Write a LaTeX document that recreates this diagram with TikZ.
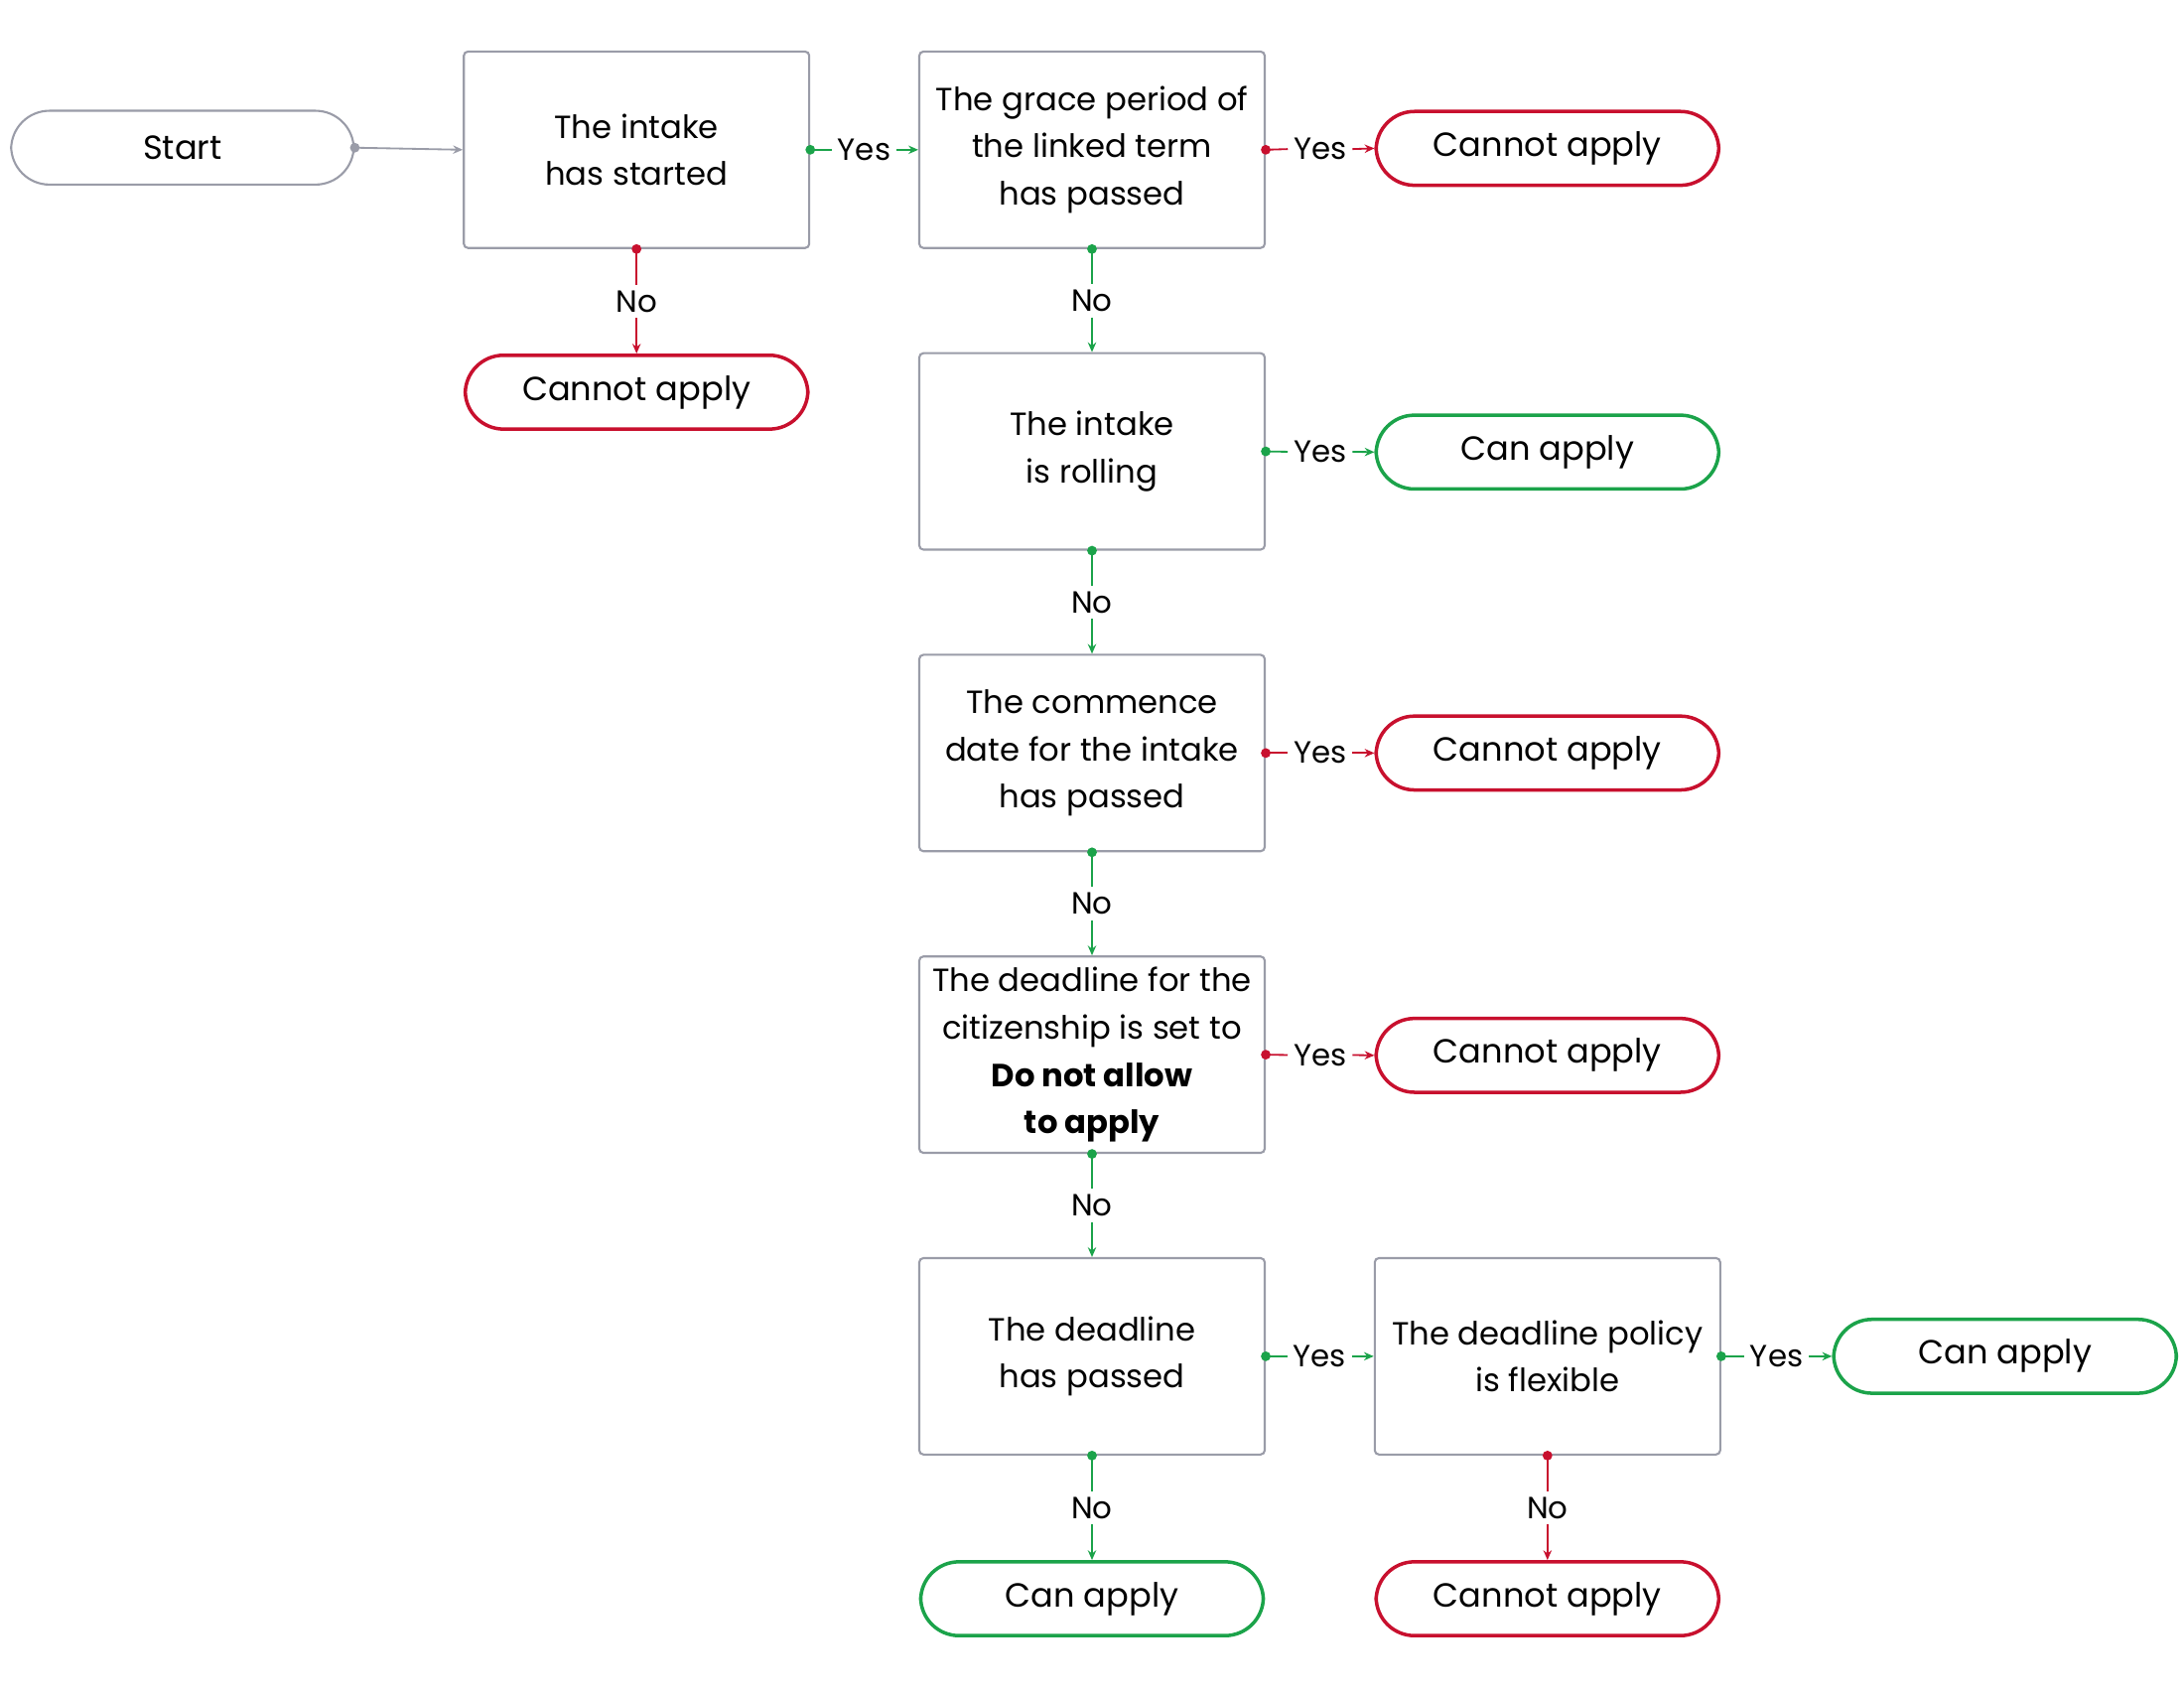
\documentclass[tikz,border=0pt]{standalone}
\usepackage{fontspec}
\setmainfont{Poppins}
\usetikzlibrary{arrows.meta}
\definecolor{cred}{HTML}{C8102E}
\definecolor{cgreen}{HTML}{1BA34A}
\definecolor{cgrey}{HTML}{9A9CA8}
\begin{document}
\begin{tikzpicture}[x=1pt,y=-1pt,
  box/.style={draw=cgrey,line width=1.5pt,rounded corners=3pt,minimum width=248pt,minimum height=141pt,align=center,font=\fontsize{23}{34}\selectfont,inner sep=0pt},
  term/.style={line width=2.5pt,rounded corners=27.5pt,minimum width=246pt,minimum height=53pt,font=\fontsize{24}{30}\selectfont,inner sep=0pt},
  redt/.style={term,draw=cred},
  greent/.style={term,draw=cgreen},
  lbl/.style={font=\fontsize{22}{26}\selectfont,inner sep=4pt},
  con/.style={line width=1.3pt},
  tip/.style={-{Stealth[length=7pt,width=6pt]}}
]
\useasboundingbox (0,0) rectangle (1568,1217);
\node[term,draw=cgrey,line width=1.5pt] (start) at (131,106) {Start};
\node[box] (b1) at (457,107.5) {The intake\\has started};
\node[box] (b2) at (784,107.5) {The grace period of\\the linked term\\has passed};
\node[redt] (t1) at (1111,106.5) {Cannot apply};
\node[redt] (t2) at (457,281.5) {Cannot apply};
\node[box] (b3) at (784,324) {The intake\\is rolling};
\node[greent] (t3) at (1111,324.5) {Can apply};
\node[box] (b4) at (784,540.5) {The commence\\date for the intake\\has passed};
\node[redt] (t4) at (1111,540.5) {Cannot apply};
\node[box] (b5) at (784,757) {The deadline for the\\citizenship is set to\\\textbf{Do not allow}\\\textbf{to apply}};
\node[redt] (t5) at (1111,757.5) {Cannot apply};
\node[box] (b6) at (784,973.5) {The deadline\\has passed};
\node[box] (b7) at (1111,973.5) {The deadline policy\\is flexible};
\node[greent] (t6) at (1439.5,973.5) {Can apply};
\node[greent] (t7) at (784,1147.5) {Can apply};
\node[redt] (t8) at (1111,1147.5) {Cannot apply};

\newcommand{\hcon}[4]{% from, to, colour, label
  \path (#1.east) -- node[lbl] (L#1#2) {#4} (#2.west);
  \fill[#3] (#1.east) circle (3.5pt);
  \draw[con,#3] (#1.east) -- (L#1#2.west);
  \draw[con,#3,tip] (L#1#2.east) -- (#2.west);}
\newcommand{\vcon}[4]{%
  \path (#1.south) -- node[lbl] (L#1#2) {#4} (#2.north);
  \fill[#3] (#1.south) circle (3.5pt);
  \draw[con,#3] (#1.south) -- (L#1#2.north);
  \draw[con,#3,tip] (L#1#2.south) -- (#2.north);}

\fill[cgrey] (start.east) circle (3.5pt);
\draw[con,cgrey,tip] (start.east) -- (b1.west);
\hcon{b1}{b2}{cgreen}{Yes}
\hcon{b2}{t1}{cred}{Yes}
\vcon{b1}{t2}{cred}{No}
\vcon{b2}{b3}{cgreen}{No}
\hcon{b3}{t3}{cgreen}{Yes}
\vcon{b3}{b4}{cgreen}{No}
\hcon{b4}{t4}{cred}{Yes}
\vcon{b4}{b5}{cgreen}{No}
\hcon{b5}{t5}{cred}{Yes}
\vcon{b5}{b6}{cgreen}{No}
\hcon{b6}{b7}{cgreen}{Yes}
\hcon{b7}{t6}{cgreen}{Yes}
\vcon{b6}{t7}{cgreen}{No}
\vcon{b7}{t8}{cred}{No}
\end{tikzpicture}
\end{document}
